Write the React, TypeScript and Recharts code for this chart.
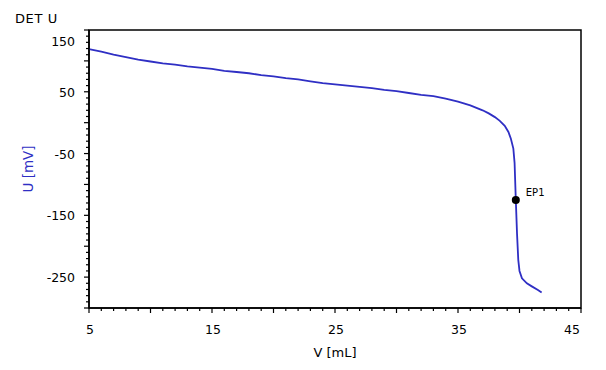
import React from 'react'
import { LineChart, Line, XAxis, YAxis, ReferenceArea, ReferenceDot } from 'recharts'

// titration curve
const volume = [
  5, 6, 7, 8, 9, 10, 11, 12, 13, 14, 15, 16, 17, 18, 19, 20, 21, 22, 23, 24, 25, 26, 27, 28, 29, 30,
  31, 32, 33, 34, 35, 36, 36.5, 37, 37.5, 38, 38.4, 38.8, 39.1, 39.3, 39.5, 39.6, 39.7, 39.8, 39.9,
  40.0, 40.2, 40.6, 41.0, 41.5, 41.8,
]
const potential = [
  119, 115, 110, 106, 102, 99, 96, 94, 91, 89, 87, 84, 82, 80, 77, 75, 72, 70, 67, 64, 62, 60, 58, 56, 53, 51,
  48, 45, 43, 39, 34, 28, 24, 20, 15, 9, 3, -5, -15, -26, -42, -65, -125, -180, -222,
  -240, -252, -260, -265, -271, -275,
]

const epVolume = 39.7
const epPotential = -125
const epName = 'EP1'

const xLabels = [5, 15, 25, 35, 45]
const yLabels = [150, 50, -50, -150, -250]
const xTicks = Array.from({ length: 41 }, (_, i) => 5 + i)
const yTicks = Array.from({ length: 46 }, (_, i) => -300 + i * 10)

const data = volume.map((v, i) => ({ v, u: potential[i] }))

const font = 'DejaVu Sans, sans-serif'
const blue = '#2f2fc4'

function XTick(props: any) {
  const { x, y, payload } = props
  const val = payload.value
  const len = val % 5 === 0 ? 5 : 3
  const labelled = xLabels.includes(val)
  const last = val === 45
  return (
    <g>
      <line x1={x} y1={y} x2={x} y2={y + len} stroke="#000" strokeWidth={1.2} />
      {labelled && (
        <text x={last ? x - 9 : x + 1} y={y + 26} textAnchor="middle" fontSize={12.5} fontFamily={font} fill="#000">
          {val}
        </text>
      )}
    </g>
  )
}

function YTick(props: any) {
  const { x, y, payload } = props
  const val = payload.value
  const len = val % 50 === 0 ? 5 : 3
  const labelled = yLabels.includes(val)
  const top = val === 150
  return (
    <g>
      <line x1={x - len} y1={y} x2={x} y2={y} stroke="#000" strokeWidth={1.2} />
      {labelled && (
        <text x={x - 14} y={top ? y + 16 : y + 5} textAnchor="end" fontSize={12.5} fontFamily={font} fill="#000">
          {val}
        </text>
      )}
    </g>
  )
}

export default function App() {
  return (
    <div style={{ position: 'absolute', left: 0, top: 0, width: 606, height: 370, background: '#fff' }}>
      <div style={{ position: 'absolute', left: 15, top: 11, fontFamily: font, fontSize: 13, letterSpacing: 0.6 }}>DET U</div>
      <LineChart width={606} height={370} data={data} margin={{ top: 30, right: 25, bottom: 0, left: 0 }}>
        <XAxis
          dataKey="v"
          type="number"
          domain={[5, 45]}
          ticks={xTicks}
          interval={0}
          height={62}
          tickLine={false}
          tickSize={0}
          tickMargin={0}
          tick={<XTick />}
          axisLine={{ stroke: '#000', strokeWidth: 1.5 }}
          label={(p: any) => (
            <text x={p.viewBox.x + p.viewBox.width / 2} y={p.viewBox.y + 49} textAnchor="middle" fontSize={13} fontFamily={font} fill="#000">
              V [mL]
            </text>
          )}
        />
        <YAxis
          dataKey="u"
          type="number"
          domain={[-300, 150]}
          ticks={yTicks}
          interval={0}
          width={89}
          tickLine={false}
          tickSize={0}
          tickMargin={0}
          tick={<YTick />}
          axisLine={{ stroke: '#000', strokeWidth: 1.5 }}
          label={(p: any) => (
            <text
              x={28}
              y={p.viewBox.y + p.viewBox.height / 2}
              textAnchor="middle"
              fontSize={13.5}
              fontFamily={font}
              fill={blue}
              transform={`rotate(-90, 28, ${p.viewBox.y + p.viewBox.height / 2})`}
              dominantBaseline="central"
            >
              U [mV]
            </text>
          )}
        />
        <ReferenceArea x1={5} x2={45} y1={-300} y2={150} fill="none" stroke="#000" strokeWidth={1.5} ifOverflow="visible" />
        <Line type="linear" dataKey="u" stroke={blue} strokeWidth={1.8} dot={false} isAnimationActive={false} />
        <ReferenceDot
          x={epVolume}
          y={epPotential}
          r={4}
          fill="#000"
          stroke="none"
          label={(p: any) => (
            <text x={p.viewBox.x + p.viewBox.width + 6} y={p.viewBox.y} fontSize={10} fontFamily={font} fill="#000">
              {epName}
            </text>
          )}
        />
      </LineChart>
    </div>
  )
}
